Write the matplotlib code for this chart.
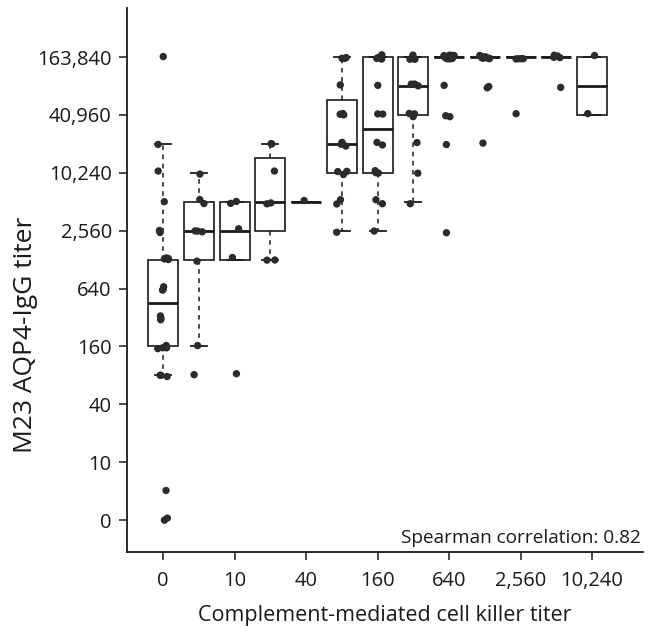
import numpy as np
import matplotlib
matplotlib.use("Agg")
import matplotlib.pyplot as plt

plt.rcParams['font.family'] = ['Open Sans', 'DejaVu Sans']

# Complement-mediated cell killer titer categories (x)
killer_titers = [0, 5, 10, 20, 40, 80, 160, 320, 640, 1280, 2560, 5120, 10240]

# M23 AQP4-IgG titers for each killer-titer group
g0 = [0, 0, 5, 80, 80, 80, 160, 160, 160, 160, 320, 320, 320, 640, 640, 640,
      1280, 1280, 1280, 1280, 2560, 2560, 5120, 10240, 20480, 163840]
g5 = [80, 160, 1280, 2560, 2560, 2560, 5120, 5120, 10240]
g10 = [80, 1280, 2560, 5120, 5120]
g20 = [1280, 1280, 5120, 5120, 10240, 20480, 20480]
g40 = [5120]
g80 = [2560, 5120, 5120, 10240, 10240, 10240, 20480, 20480, 20480,
       40960, 40960, 40960, 81920, 163840, 163840, 163840]
g160 = [2560, 5120, 5120, 10240, 10240, 10240, 20480, 20480, 40960, 40960,
        81920, 163840, 163840, 163840, 163840, 163840]
g320 = [5120, 10240, 20480, 40960, 40960, 40960, 81920, 81920, 81920, 81920,
        163840, 163840, 163840, 163840]
g640 = [2560, 20480, 40960, 40960, 81920] + [163840] * 16
g1280 = [20480, 81920, 81920] + [163840] * 10
g2560 = [40960] + [163840] * 4
g5120 = [81920] + [163840] * 4
g10240 = [40960, 163840]
groups = [g0, g5, g10, g20, g40, g80, g160, g320, g640, g1280, g2560, g5120, g10240]

y_tick_values = [0, 10, 40, 160, 640, 2560, 10240, 40960, 163840]
x_tick_values = [0, 10, 40, 160, 640, 2560, 10240]
spearman = 0.82


def to_axis(v):
    # 0 -> 0, 10 -> 1, every 4-fold step -> +1
    v = np.asarray(v, dtype=float)
    out = np.zeros_like(v)
    pos = v > 0
    out[pos] = 1 + np.log2(v[pos] / 10) / 2
    return out


def fivenum_stats(vals):
    # Tukey hinges, like R's boxplot
    x = np.sort(vals)
    n = len(x)
    n4 = np.floor((n + 3) / 2) / 2
    d = np.array([1, n4, (n + 1) / 2, n + 1 - n4, n])
    q = 0.5 * (x[np.floor(d - 1).astype(int)] + x[np.ceil(d - 1).astype(int)])
    iqr = q[3] - q[1]
    lo = x[x >= q[1] - 1.5 * iqr].min()
    hi = x[x <= q[3] + 1.5 * iqr].max()
    return dict(med=q[2], q1=q[1], q3=q[3], whislo=lo, whishi=hi, fliers=[])


fig = plt.figure(figsize=(6.55, 6.27), dpi=100)
ax = fig.add_axes([0.194, 0.1196, 0.788, 0.867])

stats = [fivenum_stats(to_axis(g)) for g in groups]
positions = np.arange(len(groups))
ax.bxp(stats, positions=positions, widths=0.84, capwidths=0.45,
       showfliers=False, patch_artist=True,
       boxprops=dict(facecolor='white', edgecolor='#1a1a1a', linewidth=1.2),
       medianprops=dict(color='#1a1a1a', linewidth=2.0),
       whiskerprops=dict(color='#1a1a1a', linewidth=1.1, linestyle=(0, (3, 3))),
       capprops=dict(color='#1a1a1a', linewidth=1.3))

rng = np.random.default_rng(7)
for i, g in enumerate(groups):
    y = to_axis(g)
    xj = i + rng.uniform(-0.15, 0.15, len(y))
    yj = y + rng.uniform(-0.04, 0.04, len(y))
    ax.scatter(xj, yj, s=28, color='#2b2b2b', edgecolors='none', zorder=5)

ax.set_xlim(-1.007, 13.43)
ax.set_ylim(-0.553, 8.84)

ax.set_yticks(to_axis(y_tick_values))
ax.set_yticklabels([f'{v:,}' for v in y_tick_values])
ax.set_xticks([killer_titers.index(v) for v in x_tick_values])
ax.set_xticklabels([f'{v:,}' for v in x_tick_values])
ax.tick_params(axis='both', labelsize=14.5, length=6, width=1.1,
               color='#1a1a1a', labelcolor='#1a1a1a')
ax.tick_params(axis='x', pad=8)
ax.tick_params(axis='y', pad=5)

for s in ['top', 'right']:
    ax.spines[s].set_visible(False)
for s in ['left', 'bottom']:
    ax.spines[s].set_linewidth(1.3)
    ax.spines[s].set_color('#1a1a1a')

ax.set_xlabel('Complement-mediated cell killer titer', fontsize=15.5,
              color='#1a1a1a')
ax.xaxis.set_label_coords(0.5, -0.097)
ax.set_ylabel('M23 AQP4-IgG titer', fontsize=19, color='#1a1a1a')
ax.yaxis.set_label_coords(-0.172, 0.40)

ax.text(0.996, 0.01, f'Spearman correlation: {spearman}', transform=ax.transAxes,
        ha='right', va='bottom', fontsize=13.7, color='#1a1a1a')

fig.savefig('out.png', dpi=100)
